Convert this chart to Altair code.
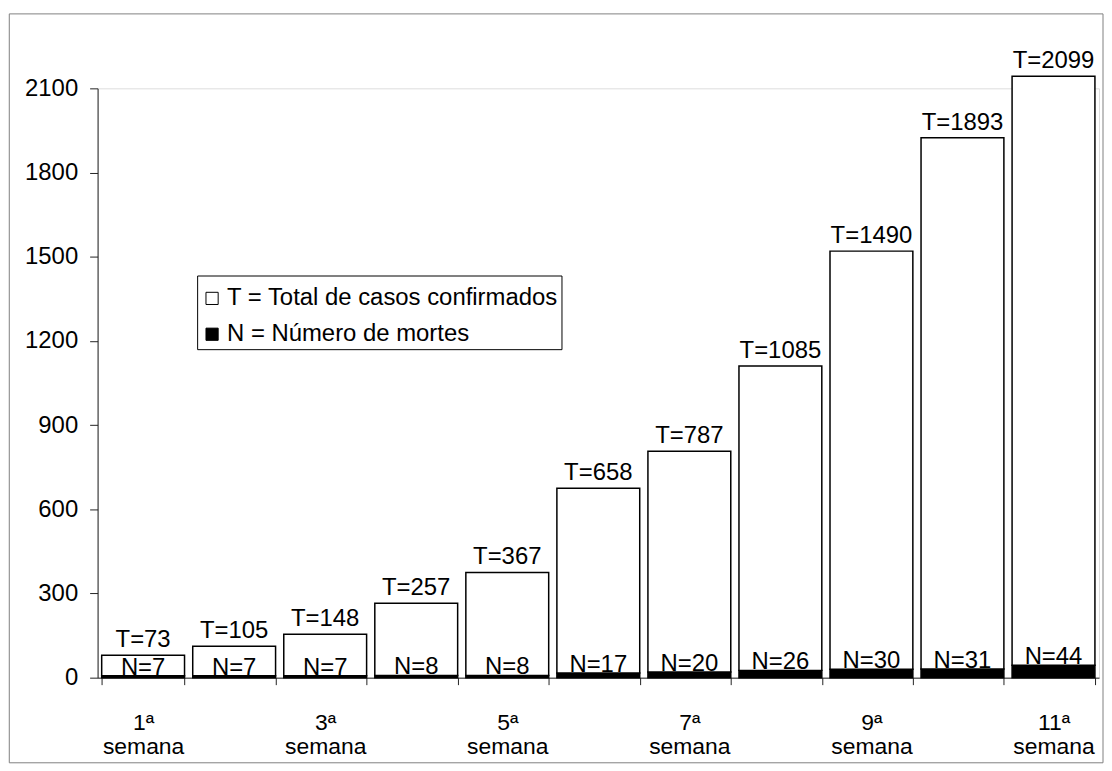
import altair as alt
import pandas as pd

weeks = ["1", "2", "3", "4", "5", "6", "7", "8", "9", "10", "11"]
total = [73, 105, 148, 257, 367, 658, 787, 1085, 1490, 1893, 2099]
deaths = [7, 7, 7, 8, 8, 17, 20, 26, 30, 31, 44]
y_ticks = [0, 300, 600, 900, 1200, 1500, 1800, 2100]

LBL_T = "T = Total de casos confirmados"
LBL_N = "N = Número de mortes"
FONT = "Liberation Sans"
FS = 24

rows = []
for w, t, n in zip(weeks, total, deaths):
    rows.append({"week": w, "series": LBL_N, "value": n, "ord": 0})
    rows.append({"week": w, "series": LBL_T, "value": t, "ord": 1})
long_df = pd.DataFrame(rows)

wide_df = pd.DataFrame({
    "week": weeks,
    "total": total,
    "deaths": deaths,
})
wide_df["sum"] = wide_df["total"] + wide_df["deaths"]
wide_df["labT"] = ["T=" + str(v) for v in total]
wide_df["labN"] = ["N=" + str(v) for v in deaths]

x_scale = alt.Scale(paddingInner=0.09, paddingOuter=0.045)
y_scale = alt.Scale(domain=[0, 2100], nice=False, zero=True)

x_axis = alt.Axis(
    title=None, labelAngle=0, tickBand="extent", tickSize=7, grid=False,
    labelFontSize=23, labelFont=FONT, labelColor="black",
    labelLineHeight=24, labelPadding=27, labelOverlap=False,
    labelExpr="toNumber(datum.value) % 2 == 1 ? [datum.value + 'ª', 'semana'] : ''",
    domainColor="#222", tickColor="#222",
)
y_axis = alt.Axis(
    values=y_ticks, format="d", title=None, grid=False, tickSize=8,
    labelPadding=12, labelFontSize=FS, labelFont=FONT, labelColor="black",
    domainColor="#222", tickColor="#222",
)

bars = alt.Chart(long_df).mark_bar(stroke="black", strokeWidth=1.5).encode(
    x=alt.X("week:N", sort=weeks, scale=x_scale, axis=x_axis),
    y=alt.Y("value:Q", stack="zero", scale=y_scale, axis=y_axis),
    color=alt.Color(
        "series:N",
        scale=alt.Scale(domain=[LBL_T, LBL_N], range=["white", "black"]),
        legend=alt.Legend(
            orient="none", legendX=100, legendY=188, title=" ",
            titleFontSize=6, titlePadding=2,
            symbolType="square", symbolSize=150, symbolStrokeColor="black",
            symbolStrokeWidth=1, labelFontSize=FS, labelFont=FONT,
            labelColor="black", labelLimit=0, labelOffset=3,
            strokeColor="black", fillColor="white", padding=3, rowPadding=12,
        ),
    ),
    order=alt.Order("ord:Q"),
)

t_text = alt.Chart(wide_df).mark_text(
    fontSize=FS, font=FONT, color="black", baseline="alphabetic", dy=-8
).encode(
    x=alt.X("week:N", sort=weeks, scale=x_scale, axis=x_axis),
    y=alt.Y("sum:Q", scale=y_scale, axis=y_axis),
    text="labT:N",
)

n_text = alt.Chart(wide_df).mark_text(
    fontSize=FS, font=FONT, color="black", baseline="alphabetic", dy=-1
).encode(
    x=alt.X("week:N", sort=weeks, scale=x_scale, axis=x_axis),
    y=alt.Y("deaths:Q", scale=y_scale, axis=y_axis),
    text="labN:N",
)

frame = alt.Chart(pd.DataFrame({"a": [0]})).mark_rect(
    filled=False, stroke="#808080", strokeWidth=1
).encode(
    x=alt.value(-88.7), x2=alt.value(1010),
    y=alt.value(-74.8), y2=alt.value(677.5),
)

chart = alt.layer(frame, bars, t_text, n_text).properties(
    width=1006, height=592,
    padding={"left": 0, "top": 3, "right": 0, "bottom": 0},
).configure_view(stroke="transparent", strokeWidth=0).configure(font=FONT).configure_axis(grid=False)

chart.save("out.html", embed_options={"renderer": "svg", "actions": False})
